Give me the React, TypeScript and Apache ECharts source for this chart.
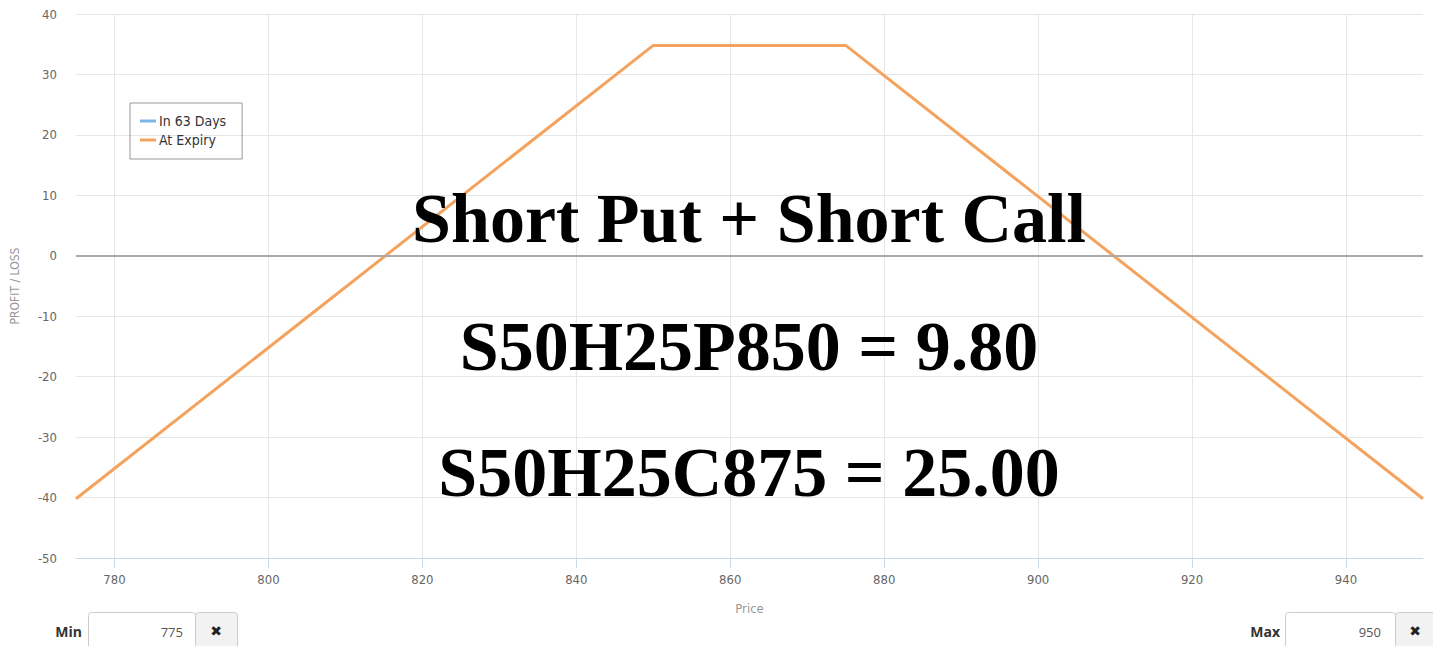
import React, { useEffect, useRef } from "react";
import * as echarts from "echarts";

const priceTicks = [780, 800, 820, 840, 860, 880, 900, 920, 940];
const expiryPrices = [775, 850, 875, 950];
const expiryPL = [-40.2, 34.8, 34.8, -40.2];
const in63DaysPL: number[][] = [];
const seriesNames = ["In 63 Days", "At Expiry"];
const overlayLines = ["Short Put + Short Call", "S50H25P850 = 9.80", "S50H25C875 = 25.00"];
const xMin = 775;
const xMax = 950;

const labelFont = "'Liberation Sans Narrow', 'DejaVu Sans Condensed', Roboto, sans-serif";

export default function App() {
  const ref = useRef<HTMLDivElement>(null);
  useEffect(() => {
    if (!ref.current) return;
    const chart = echarts.init(ref.current, null, { renderer: "svg" });
    const option: any = {
      animation: false,
      backgroundColor: "#ffffff",
      grid: { left: 76, right: 10, top: 14, bottom: 88, containLabel: false },
      legend: {
        orient: "vertical",
        left: 130,
        top: 103,
        borderColor: "#999999",
        borderWidth: 1,
        padding: [11, 16, 12, 10],
        itemGap: 5,
        itemWidth: 16,
        itemHeight: 3,
        icon: "rect",
        textStyle: { fontFamily: labelFont, fontSize: 14, color: "#333333", padding: [0, 0, 0, -2] },
        data: seriesNames,
      },
      xAxis: {
        type: "value",
        min: xMin,
        max: xMax,
        name: "Price",
        nameLocation: "middle",
        nameGap: 44,
        nameTextStyle: { color: "#999999", fontFamily: labelFont, fontSize: 13 },
        axisLine: { show: true, onZero: false, lineStyle: { color: "#ccd6eb", width: 1 } },
        axisTick: { show: true, length: 10, customValues: priceTicks, lineStyle: { color: "#ccd6eb" } },
        axisLabel: { customValues: priceTicks, color: "#666666", fontFamily: labelFont, fontSize: 13, margin: 15 },
        splitLine: { show: true, lineStyle: { color: "#e6e6e6", width: 1 } },
      },
      yAxis: {
        type: "value",
        min: -50,
        max: 40,
        interval: 10,
        name: "PROFIT / LOSS",
        nameLocation: "middle",
        nameGap: 55,
        nameTextStyle: { color: "#999999", fontFamily: labelFont, fontSize: 12 },
        axisLine: { show: false },
        axisTick: { show: false },
        axisLabel: { color: "#666666", fontFamily: labelFont, fontSize: 13, margin: 19 },
        splitLine: { show: true, lineStyle: { color: "#e6e6e6", width: 1 } },
      },
      series: [
        {
          name: seriesNames[0],
          type: "line",
          data: in63DaysPL,
          color: "#7cb5ec",
          showSymbol: false,
          lineStyle: { width: 3 },
        },
        {
          name: seriesNames[1],
          type: "line",
          data: expiryPrices.map((p, i) => [p, expiryPL[i]]),
          color: "#f4a35f",
          showSymbol: false,
          lineStyle: { width: 3, color: "#f4a35f" },
          markLine: {
            silent: true,
            symbol: "none",
            label: { show: false },
            lineStyle: { color: "#aaaaaa", width: 2, type: "solid" },
            data: [{ yAxis: 0 }],
          },
          z: 3,
        },
      ],
      graphic: [
        ...overlayLines.map((t, i) => ({
          type: "text",
          x: 749,
          y: [218, 346, 472][i],
          z: 100,
          style: {
            text: t,
            fill: "#000000",
            font: "bold 70px 'Liberation Serif', 'Times New Roman', serif",
            textAlign: "center",
            textVerticalAlign: "middle",
          },
        })),
        { type: "text", x: 82, y: 631, style: { text: "Min", fill: "#333333", font: "bold 14px 'Open Sans', sans-serif", textAlign: "right", textVerticalAlign: "middle" } },
        { type: "rect", shape: { x: 88.5, y: 612.5, width: 107, height: 45, r: 3 }, style: { fill: "#ffffff", stroke: "#cccccc", lineWidth: 1 } },
        { type: "text", x: 183, y: 632, style: { text: String(xMin), fill: "#555555", font: "13px 'Open Sans', sans-serif", textAlign: "right", textVerticalAlign: "middle" } },
        { type: "rect", shape: { x: 195.5, y: 612.5, width: 42, height: 45, r: 3 }, style: { fill: "#f2f2f2", stroke: "#cccccc", lineWidth: 1 } },
        { type: "text", x: 216, y: 631, style: { text: "✖", fill: "#222222", font: "bold 14px 'DejaVu Sans', sans-serif", textAlign: "center", textVerticalAlign: "middle" } },
        { type: "text", x: 1280, y: 631, style: { text: "Max", fill: "#333333", font: "bold 14px 'Open Sans', sans-serif", textAlign: "right", textVerticalAlign: "middle" } },
        { type: "rect", shape: { x: 1285.5, y: 612.5, width: 110, height: 45, r: 3 }, style: { fill: "#ffffff", stroke: "#cccccc", lineWidth: 1 } },
        { type: "text", x: 1381, y: 632, style: { text: String(xMax), fill: "#555555", font: "13px 'Open Sans', sans-serif", textAlign: "right", textVerticalAlign: "middle" } },
        { type: "rect", shape: { x: 1395.5, y: 612.5, width: 44, height: 45, r: 3 }, style: { fill: "#f2f2f2", stroke: "#cccccc", lineWidth: 1 } },
        { type: "text", x: 1415, y: 631, style: { text: "✖", fill: "#222222", font: "bold 14px 'DejaVu Sans', sans-serif", textAlign: "center", textVerticalAlign: "middle" } },
      ],
    };
    chart.setOption(option);
    return () => chart.dispose();
  }, []);
  return <div ref={ref} style={{ position: "absolute", left: 0, top: 0, width: 1433, height: 646 }} />;
}
